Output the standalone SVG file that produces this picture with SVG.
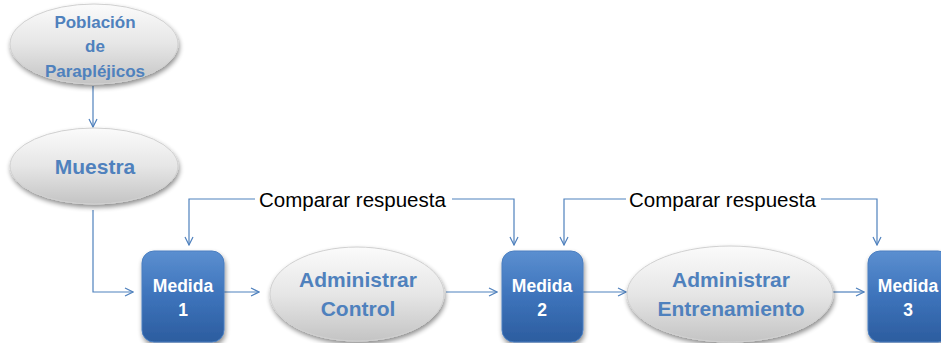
<svg xmlns="http://www.w3.org/2000/svg" width="941" height="343" viewBox="0 0 941 343">
<defs>
<linearGradient id="ellG" x1="0" y1="0" x2="0" y2="1">
<stop offset="0" stop-color="#fbfbfb"/>
<stop offset="0.5" stop-color="#e6e6e6"/>
<stop offset="1" stop-color="#c4c4c4"/>
</linearGradient>
<linearGradient id="boxG" x1="0" y1="0" x2="0" y2="1">
<stop offset="0" stop-color="#5b8fd0"/>
<stop offset="0.5" stop-color="#3d73bb"/>
<stop offset="1" stop-color="#2c5d9f"/>
</linearGradient>
<filter id="sh" x="-20%" y="-20%" width="140%" height="150%">
<feGaussianBlur in="SourceAlpha" stdDeviation="2.5"/>
<feOffset dx="1" dy="3" result="b"/>
<feComponentTransfer><feFuncA type="linear" slope="0.45"/></feComponentTransfer>
<feMerge><feMergeNode/><feMergeNode in="SourceGraphic"/></feMerge>
</filter>
<marker id="arr" viewBox="0 0 10 10" refX="9" refY="5" markerWidth="10" markerHeight="10" markerUnits="userSpaceOnUse" orient="auto">
<path d="M1,1 L9,5 L1,9" fill="none" stroke="#4f81bd" stroke-width="1.2"/>
</marker>
</defs>
<style>
.ell{fill:url(#ellG);stroke:#d0d0d0;stroke-width:1;filter:url(#sh)}
.box{fill:url(#boxG);stroke:#4a7ec0;stroke-width:1;filter:url(#sh)}
.et{font-family:"Liberation Sans",Arial,sans-serif;font-weight:bold;fill:#4f81bd;text-anchor:middle}
.bt{font-family:"Liberation Sans",Arial,sans-serif;font-weight:bold;fill:#ffffff;text-anchor:middle;font-size:17.5px}
.lbl{font-family:"Liberation Sans",Arial,sans-serif;fill:#000000;font-size:20.5px}
.con{fill:none;stroke:#4f81bd;stroke-width:1.2}
</style>
<rect width="941" height="343" fill="#ffffff"/>
<g id="connectors">
<path class="con" d="M93,86 V127" marker-end="url(#arr)"/>
<path class="con" d="M93,210 V292 H133" marker-end="url(#arr)"/>
<path class="con" d="M224,292 H259" marker-end="url(#arr)"/>
<path class="con" d="M446,292 H497" marker-end="url(#arr)"/>
<path class="con" d="M583,292 H626" marker-end="url(#arr)"/>
<path class="con" d="M833,292 H864" marker-end="url(#arr)"/>
<path class="con" d="M255,199 H189 V245" marker-end="url(#arr)"/>
<path class="con" d="M452,199 H514 V245" marker-end="url(#arr)"/>
<path class="con" d="M626,199 H564 V245" marker-end="url(#arr)"/>
<path class="con" d="M821,199 H877 V245" marker-end="url(#arr)"/>
<text class="lbl" x="259" y="207">Comparar respuesta</text>
<text class="lbl" x="629" y="207">Comparar respuesta</text>
</g>
<g id="poblacion">
<ellipse class="ell" cx="94" cy="44" rx="84" ry="40"/>
<text class="et" font-size="17" x="95" y="28">Población</text>
<text class="et" font-size="17" x="95" y="52">de</text>
<text class="et" font-size="17" x="95" y="77">Parapléjicos</text>
</g>
<g id="muestra">
<ellipse class="ell" cx="94" cy="166" rx="84" ry="38"/>
<text class="et" font-size="21" x="95" y="174">Muestra</text>
</g>
<g id="medida1">
<rect class="box" x="142" y="251" width="82" height="91" rx="12"/>
<text class="bt" x="183" y="292">Medida</text>
<text class="bt" x="183" y="316">1</text>
</g>
<g id="control">
<ellipse class="ell" cx="357" cy="294" rx="87" ry="47"/>
<text class="et" font-size="21" x="358" y="287">Administrar</text>
<text class="et" font-size="21" x="358" y="316">Control</text>
</g>
<g id="medida2">
<rect class="box" x="502" y="251" width="81" height="91" rx="12"/>
<text class="bt" x="542" y="292">Medida</text>
<text class="bt" x="542" y="316">2</text>
</g>
<g id="entrenamiento">
<ellipse class="ell" cx="730" cy="294" rx="103" ry="48"/>
<text class="et" font-size="21" x="731" y="287">Administrar</text>
<text class="et" font-size="21" x="731" y="316">Entrenamiento</text>
</g>
<g id="medida3">
<rect class="box" x="868" y="251" width="82" height="91" rx="12"/>
<text class="bt" x="908" y="292">Medida</text>
<text class="bt" x="908" y="316">3</text>
</g>
</svg>
